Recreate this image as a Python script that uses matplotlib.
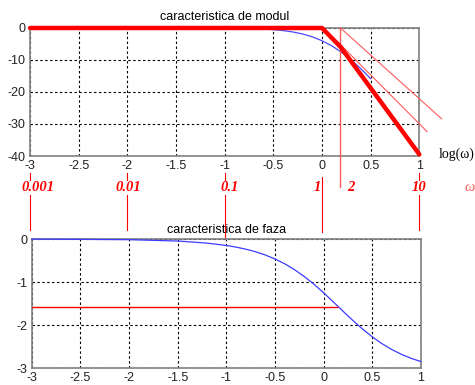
import matplotlib
matplotlib.use("Agg")
import matplotlib.pyplot as plt

# --- data ---
log_w = [-3.0, -2.0, -1.5, -1.2, -1.0, -0.9, -0.8, -0.7, -0.6, -0.5, -0.4, -0.3,
         -0.2, -0.1, 0.0, 0.1, 0.2, 0.3, 0.4, 0.5, 0.6, 0.7, 0.8, 0.9, 1.0]
mag_db = [0.0, -0.001, -0.005, -0.021, -0.054, -0.085, -0.135, -0.21, -0.334,
          -0.521, -0.808, -1.238, -1.867, -2.761, -3.979, -5.573, -7.572,
          -9.973, -12.751, -15.855, -19.223, -22.791, -26.503, -30.315, -34.193]
phase = [-0.0015, -0.015, -0.047, -0.095, -0.150, -0.188, -0.236, -0.296, -0.371,
         -0.463, -0.575, -0.710, -0.869, -1.049, -1.249, -1.461, -1.678, -1.890,
         -2.090, -2.271, -2.430, -2.565, -2.677, -2.770, -2.845]
# the magnitude curve is only visible up to about log(w)=0.5 (covered after)
mag_visible = 20

asym_x = [-3.0, 0.0, 0.19, 1.0]
asym_y = [0.0, 0.0, -5.9, -39.5]
thin1_x = [0.19, 1.23]
thin1_y = [0.0, -28.4]
thin2_x = [0.2, 1.08]
thin2_y = [-5.5, -32.4]

phase_ref = -1.5708
phase_ref_end = 0.14

w_pos = [-3, -2, -1, 0, 1]
w_labels = ["0.001", "0.01", "0.1", "1", "10"]
w_label_x = [-2.92, -1.99, -0.95, -0.05, 1.0]
corner_x = 0.19

xticks = [-3, -2.5, -2, -1.5, -1, -0.5, 0, 0.5, 1]
xtick_labels = ["-3", "-2.5", "-2", "-1.5", "-1", "-0.5", "0", "0.5", "1"]

RED = "#ff0000"
PINK = "#ff5a5a"

plt.rcParams["font.family"] = ["Liberation Sans", "DejaVu Sans"]
fig = plt.figure(figsize=(4.75, 3.85), dpi=100)
ax1 = fig.add_axes([0.0632, 0.5948, 0.8196, 0.3325])
ax2 = fig.add_axes([0.0667, 0.0434, 0.8196, 0.3358])


def style(ax, yticks):
    ax.set_xlim(-3, 1)
    ax.set_xticks(xticks)
    ax.set_xticklabels(xtick_labels)
    ax.set_yticks(yticks)
    ax.set_yticklabels([f"{v:g}" for v in yticks])
    ax.tick_params(length=0, labelsize=9, pad=3, colors="#222222")
    ax.grid(True, color="black", linestyle=(0, (2.2, 2.2)), linewidth=0.8)
    for s in ax.spines.values():
        s.set_color("#808080")
        s.set_linewidth(1.2)


# top: magnitude
style(ax1, [0, -10, -20, -30, -40])
ax1.set_ylim(-40, 0)
ax1.set_title("caracteristica de modul", fontsize=9, pad=6)
ax1.plot(log_w[:mag_visible], mag_db[:mag_visible], color="#4a4aff",
         linewidth=0.9, zorder=3)
ax1.plot(thin1_x, thin1_y, color=PINK, linewidth=0.8, clip_on=False, zorder=4)
ax1.plot(thin2_x, thin2_y, color=PINK, linewidth=0.8, clip_on=False, zorder=4)
ax1.plot(asym_x, asym_y, color=RED, linewidth=3.2, clip_on=False, zorder=5,
         solid_capstyle="round", solid_joinstyle="round")
ax1.plot([corner_x, corner_x], [0, -49.7], color=PINK, linewidth=1.0,
         clip_on=False, zorder=4)

# connecting marks between the two plots (in top axes data units)
for xp, lab, lx in zip(w_pos, w_labels, w_label_x):
    if xp == 0:
        ax1.plot([xp, xp], [-46.5, -63.8], color=RED, linewidth=0.8, clip_on=False)
    else:
        low = -65.6 if xp == -1 else -63.2
        ax1.plot([xp, xp], [-45.2, -47.4], color=RED, linewidth=0.8, clip_on=False)
        ax1.plot([xp, xp], [-52.2, low], color=RED, linewidth=0.8, clip_on=False)
    ax1.text(lx, -49.8, lab, color=RED, fontsize=10.5, family="Liberation Serif",
             weight="bold", style="italic", ha="center", va="center",
             clip_on=False)
ax1.text(0.3, -49.8, "2", color=RED, fontsize=10.5, family="Liberation Serif",
         weight="bold", style="italic", ha="center", va="center")
ax1.text(1.52, -49.8, "ω", color=PINK, fontsize=10.5, family="Liberation Serif",
         style="italic", ha="center", va="center")
ax1.text(1.2, -39.5, "log(ω)", color="black", fontsize=10,
         family="Liberation Serif", ha="left", va="center")

# bottom: phase
style(ax2, [0, -1, -2, -3])
ax2.set_ylim(-3, 0)
ax2.set_title("caracteristica de faza", fontsize=9, pad=4)
ax2.plot(log_w, phase, color="#3c3cff", linewidth=0.9, clip_on=False, zorder=3)
ax2.plot([-3, phase_ref_end], [phase_ref, phase_ref], color=RED, linewidth=1.0,
         zorder=4)

fig.savefig("out.png", dpi=100)
